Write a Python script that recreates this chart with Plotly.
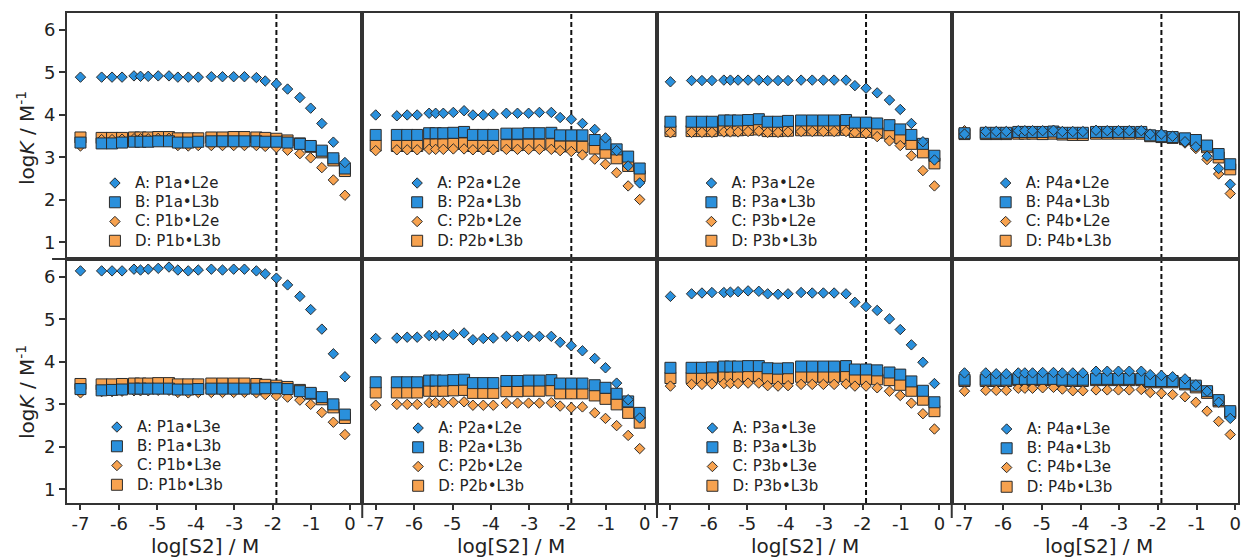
import plotly.graph_objects as go
from plotly.subplots import make_subplots

# log[S2] titration points (shared by every panel)
LOG_S2 = [-7.00, -6.45, -6.18, -5.92, -5.61, -5.44, -5.24, -4.98, -4.70, -4.47,
          -4.20, -3.94, -3.60, -3.31, -3.02, -2.74, -2.43, -2.20, -1.91, -1.62,
          -1.30, -1.02, -0.73, -0.43, -0.13]
REFERENCE_LOG_S2 = -1.91

XTICK_VALS = [-7, -6, -5, -4, -3, -2, -1, 0]
XTICK_TEXT = ["-7", "-6", "-5", "-4", "-3", "-2", "-1", "0"]
YTICK_VALS = [1, 2, 3, 4, 5, 6]
YTICK_TEXT = ["1", "2", "3", "4", "5", "6"]

# ---- upper row (logK / M^-1) ----
TOP1_A = [4.89, 4.89, 4.89, 4.89, 4.92, 4.91, 4.91, 4.92, 4.92, 4.89, 4.89, 4.89, 4.90,
          4.90, 4.90, 4.90, 4.88, 4.80, 4.73, 4.61, 4.41, 4.16, 3.80, 3.36, 2.88]
TOP1_B = [3.35, 3.33, 3.33, 3.35, 3.37, 3.37, 3.37, 3.38, 3.38, 3.35, 3.35, 3.37, 3.38,
          3.38, 3.38, 3.38, 3.38, 3.37, 3.37, 3.35, 3.32, 3.27, 3.16, 2.98, 2.74]
TOP1_C = [3.27, 3.42, 3.42, 3.43, 3.44, 3.44, 3.44, 3.45, 3.45, 3.28, 3.27, 3.28, 3.28,
          3.28, 3.28, 3.28, 3.28, 3.26, 3.23, 3.17, 3.09, 2.99, 2.76, 2.47, 2.11]
TOP1_D = [3.47, 3.46, 3.46, 3.46, 3.47, 3.47, 3.47, 3.48, 3.48, 3.45, 3.45, 3.45, 3.47,
          3.47, 3.48, 3.48, 3.47, 3.46, 3.44, 3.40, 3.33, 3.25, 3.12, 2.93, 2.68]

TOP2_A = [4.00, 3.98, 4.00, 4.00, 4.04, 4.04, 4.04, 4.06, 4.10, 4.00, 4.00, 4.02, 4.04,
          4.04, 4.04, 4.06, 4.06, 3.94, 3.90, 3.80, 3.66, 3.46, 3.16, 2.80, 2.40]
TOP2_B = [3.53, 3.53, 3.53, 3.53, 3.57, 3.57, 3.57, 3.58, 3.60, 3.53, 3.53, 3.53, 3.56,
          3.56, 3.57, 3.57, 3.58, 3.52, 3.52, 3.52, 3.41, 3.31, 3.19, 3.02, 2.74]
TOP2_C = [3.16, 3.18, 3.18, 3.18, 3.19, 3.19, 3.19, 3.20, 3.20, 3.18, 3.18, 3.18, 3.19,
          3.19, 3.19, 3.19, 3.19, 3.16, 3.14, 3.06, 2.96, 2.84, 2.64, 2.33, 2.01]
TOP2_D = [3.28, 3.27, 3.27, 3.27, 3.31, 3.31, 3.31, 3.32, 3.33, 3.27, 3.27, 3.27, 3.29,
          3.29, 3.30, 3.30, 3.31, 3.26, 3.26, 3.25, 3.21, 3.11, 2.98, 2.80, 2.56]

TOP3_A = [4.78, 4.81, 4.81, 4.81, 4.82, 4.82, 4.82, 4.82, 4.82, 4.81, 4.81, 4.81, 4.82,
          4.82, 4.82, 4.82, 4.82, 4.69, 4.63, 4.52, 4.35, 4.13, 3.80, 3.37, 2.94]
TOP3_B = [3.84, 3.84, 3.84, 3.84, 3.87, 3.87, 3.87, 3.88, 3.90, 3.84, 3.84, 3.86, 3.87,
          3.87, 3.87, 3.87, 3.88, 3.82, 3.82, 3.80, 3.76, 3.66, 3.53, 3.32, 3.04]
TOP3_C = [3.58, 3.59, 3.59, 3.59, 3.60, 3.60, 3.60, 3.61, 3.62, 3.59, 3.59, 3.60, 3.61,
          3.61, 3.61, 3.61, 3.61, 3.59, 3.57, 3.49, 3.39, 3.28, 3.04, 2.69, 2.33]
TOP3_D = [3.62, 3.62, 3.62, 3.62, 3.64, 3.64, 3.64, 3.65, 3.66, 3.62, 3.62, 3.63, 3.64,
          3.64, 3.64, 3.64, 3.65, 3.60, 3.60, 3.58, 3.56, 3.46, 3.32, 3.12, 2.86]

TOP4_A = [3.55, 3.61, 3.61, 3.61, 3.63, 3.63, 3.63, 3.63, 3.64, 3.61, 3.61, 3.61, 3.64,
          3.63, 3.63, 3.63, 3.63, 3.55, 3.55, 3.50, 3.37, 3.25, 3.03, 2.74, 2.37]
TOP4_B = [3.57, 3.58, 3.58, 3.58, 3.60, 3.60, 3.60, 3.60, 3.61, 3.58, 3.58, 3.58, 3.60,
          3.60, 3.60, 3.60, 3.60, 3.52, 3.50, 3.48, 3.45, 3.41, 3.28, 3.08, 2.84]
TOP4_C = [3.63, 3.60, 3.60, 3.60, 3.61, 3.61, 3.61, 3.61, 3.62, 3.60, 3.59, 3.59, 3.61,
          3.61, 3.61, 3.61, 3.61, 3.54, 3.53, 3.48, 3.34, 3.21, 2.95, 2.61, 2.15]
TOP4_D = [3.55, 3.55, 3.55, 3.55, 3.56, 3.56, 3.56, 3.55, 3.56, 3.54, 3.53, 3.53, 3.56,
          3.56, 3.56, 3.56, 3.56, 3.50, 3.48, 3.46, 3.43, 3.38, 3.24, 3.00, 2.72]

# ---- lower row ----
BOT1_A = [6.14, 6.14, 6.14, 6.14, 6.18, 6.16, 6.18, 6.20, 6.23, 6.16, 6.14, 6.16, 6.18,
          6.16, 6.18, 6.18, 6.14, 6.07, 5.97, 5.81, 5.54, 5.23, 4.77, 4.19, 3.65]
BOT1_B = [3.36, 3.33, 3.34, 3.35, 3.37, 3.37, 3.37, 3.37, 3.37, 3.35, 3.35, 3.36, 3.37,
          3.37, 3.37, 3.37, 3.37, 3.38, 3.38, 3.36, 3.31, 3.27, 3.17, 3.00, 2.76]
BOT1_C = [3.27, 3.30, 3.30, 3.31, 3.32, 3.32, 3.32, 3.33, 3.33, 3.28, 3.27, 3.28, 3.28,
          3.28, 3.28, 3.28, 3.27, 3.23, 3.20, 3.17, 3.10, 3.00, 2.81, 2.58, 2.29]
BOT1_D = [3.48, 3.47, 3.47, 3.48, 3.49, 3.49, 3.49, 3.50, 3.50, 3.47, 3.47, 3.47, 3.49,
          3.49, 3.49, 3.49, 3.48, 3.46, 3.44, 3.41, 3.34, 3.25, 3.12, 2.93, 2.68]

BOT2_A = [4.55, 4.56, 4.58, 4.58, 4.62, 4.62, 4.62, 4.64, 4.68, 4.52, 4.55, 4.56, 4.60,
          4.60, 4.60, 4.60, 4.60, 4.46, 4.38, 4.26, 4.08, 3.86, 3.50, 3.11, 2.68]
BOT2_B = [3.52, 3.52, 3.52, 3.52, 3.56, 3.56, 3.56, 3.57, 3.58, 3.50, 3.50, 3.50, 3.55,
          3.55, 3.56, 3.56, 3.57, 3.49, 3.49, 3.49, 3.45, 3.39, 3.25, 3.07, 2.80]
BOT2_C = [2.98, 3.00, 3.00, 3.00, 3.04, 3.04, 3.04, 3.05, 3.06, 2.98, 2.98, 2.98, 3.03,
          3.03, 3.03, 3.03, 3.04, 2.96, 2.92, 2.94, 2.80, 2.67, 2.50, 2.27, 1.96]
BOT2_D = [3.28, 3.28, 3.28, 3.28, 3.32, 3.32, 3.32, 3.33, 3.34, 3.27, 3.27, 3.27, 3.31,
          3.31, 3.32, 3.32, 3.33, 3.26, 3.26, 3.26, 3.21, 3.13, 3.00, 2.80, 2.57]

BOT3_A = [5.54, 5.60, 5.62, 5.63, 5.63, 5.64, 5.65, 5.67, 5.66, 5.60, 5.59, 5.60, 5.63,
          5.62, 5.62, 5.62, 5.60, 5.40, 5.30, 5.21, 5.01, 4.76, 4.40, 3.99, 3.49]
BOT3_B = [3.86, 3.86, 3.86, 3.87, 3.89, 3.89, 3.89, 3.90, 3.90, 3.85, 3.84, 3.85, 3.89,
          3.89, 3.89, 3.89, 3.90, 3.82, 3.82, 3.80, 3.75, 3.70, 3.54, 3.32, 3.05]
BOT3_C = [3.43, 3.47, 3.47, 3.48, 3.49, 3.49, 3.49, 3.50, 3.50, 3.44, 3.43, 3.44, 3.47,
          3.47, 3.47, 3.47, 3.48, 3.43, 3.43, 3.39, 3.31, 3.21, 3.03, 2.78, 2.42]
BOT3_D = [3.62, 3.62, 3.62, 3.63, 3.66, 3.66, 3.66, 3.67, 3.67, 3.62, 3.61, 3.62, 3.65,
          3.65, 3.65, 3.65, 3.66, 3.60, 3.60, 3.59, 3.57, 3.46, 3.32, 3.11, 2.84]

BOT4_A = [3.74, 3.74, 3.72, 3.72, 3.74, 3.74, 3.74, 3.75, 3.75, 3.74, 3.74, 3.74, 3.78,
          3.78, 3.78, 3.78, 3.78, 3.70, 3.68, 3.65, 3.60, 3.46, 3.31, 3.05, 2.67]
BOT4_B = [3.58, 3.58, 3.58, 3.58, 3.60, 3.60, 3.60, 3.60, 3.60, 3.58, 3.58, 3.58, 3.60,
          3.60, 3.60, 3.60, 3.60, 3.55, 3.55, 3.55, 3.50, 3.44, 3.31, 3.10, 2.84]
BOT4_C = [3.31, 3.33, 3.33, 3.33, 3.38, 3.38, 3.38, 3.39, 3.40, 3.36, 3.32, 3.32, 3.34,
          3.34, 3.34, 3.34, 3.35, 3.28, 3.26, 3.23, 3.18, 3.05, 2.84, 2.60, 2.29]
BOT4_D = [3.55, 3.55, 3.55, 3.55, 3.57, 3.57, 3.57, 3.57, 3.57, 3.55, 3.55, 3.55, 3.57,
          3.57, 3.57, 3.57, 3.57, 3.52, 3.52, 3.52, 3.47, 3.40, 3.27, 3.07, 2.80]

# legend labels, one list per panel (A, B, C, D)
LABELS_TOP1 = ["A: P1a•L2e", "B: P1a•L3b", "C: P1b•L2e", "D: P1b•L3b"]
LABELS_TOP2 = ["A: P2a•L2e", "B: P2a•L3b", "C: P2b•L2e", "D: P2b•L3b"]
LABELS_TOP3 = ["A: P3a•L2e", "B: P3a•L3b", "C: P3b•L2e", "D: P3b•L3b"]
LABELS_TOP4 = ["A: P4a•L2e", "B: P4a•L3b", "C: P4b•L2e", "D: P4b•L3b"]
LABELS_BOT1 = ["A: P1a•L3e", "B: P1a•L3b", "C: P1b•L3e", "D: P1b•L3b"]
LABELS_BOT2 = ["A: P2a•L2e", "B: P2a•L3b", "C: P2b•L2e", "D: P2b•L3b"]
LABELS_BOT3 = ["A: P3a•L3e", "B: P3a•L3b", "C: P3b•L3e", "D: P3b•L3b"]
LABELS_BOT4 = ["A: P4a•L3e", "B: P4a•L3b", "C: P4b•L3e", "D: P4b•L3b"]

X_TITLE = "log[S2] / M"
Y_TITLE = "log<i>K</i> / M<sup>-1</sup>"

# ---------------------------------------------------------------- styling
FONT = "DejaVu Sans"
INK = "#222222"
FRAME = "#333333"
BLUE = "#2a90dc"
ORANGE = "#f7a24f"
EDGE = "#2b2b2b"

W, H = 1241, 557
M_L, M_R, M_T, M_B = 67, 0, 13, 54
PW, PH = W - M_L - M_R, H - M_T - M_B

COL_EDGES_PX = [67, 363, 658.5, 954, 1241]
ROW_SPLIT = 0.498
X_RANGES = [[-7.35, 0.32], [-7.35, 0.32], [-7.35, 0.32], [-7.33, 0.07]]
Y_RANGES = [[0.61, 6.40], [0.68, 6.42]]

# symbol, colour, size, legend rank; drawing order is D, C, B, A
SERIES_STYLE = {
    "A": ("diamond", BLUE, 8, 1),
    "B": ("square", BLUE, 11, 2),
    "C": ("diamond", ORANGE, 8, 3),
    "D": ("square", ORANGE, 11, 4),
}

panels = [
    (1, 1, [TOP1_A, TOP1_B, TOP1_C, TOP1_D], LABELS_TOP1),
    (1, 2, [TOP2_A, TOP2_B, TOP2_C, TOP2_D], LABELS_TOP2),
    (1, 3, [TOP3_A, TOP3_B, TOP3_C, TOP3_D], LABELS_TOP3),
    (1, 4, [TOP4_A, TOP4_B, TOP4_C, TOP4_D], LABELS_TOP4),
    (2, 1, [BOT1_A, BOT1_B, BOT1_C, BOT1_D], LABELS_BOT1),
    (2, 2, [BOT2_A, BOT2_B, BOT2_C, BOT2_D], LABELS_BOT2),
    (2, 3, [BOT3_A, BOT3_B, BOT3_C, BOT3_D], LABELS_BOT3),
    (2, 4, [BOT4_A, BOT4_B, BOT4_C, BOT4_D], LABELS_BOT4),
]

# legend anchor: x of text start, y of first entry centre (page pixels)
LEGEND_PX = {
    (1, 1): (135, 183), (1, 2): (438, 183), (1, 3): (733, 183), (1, 4): (1028, 183),
    (2, 1): (137, 427), (2, 2): (439, 428), (2, 3): (734, 428), (2, 4): (1029, 429),
}

LEG_FONT = 12.5      # drives entry spacing
LEG_TEXT = 15        # rendered label size
TICK_SIZE = 18
TITLE_SIZE = 20


def px_to_paper_x(px):
    return (px - M_L) / PW


def px_to_paper_y(py):
    return (H - M_B - py) / PH


fig = make_subplots(rows=2, cols=4, horizontal_spacing=0, vertical_spacing=0)

for k, (row, col, values, labels) in enumerate(panels):
    legend_id = "legend" if k == 0 else f"legend{k + 1}"
    series = dict(zip("ABCD", values))
    names = dict(zip("ABCD", labels))
    for key in ["D", "C", "B", "A"]:
        symbol, color, size, rank = SERIES_STYLE[key]
        fig.add_trace(
            go.Scatter(
                x=LOG_S2, y=series[key], mode="markers",
                name=f'<span style="font-size:{LEG_TEXT}px">{names[key]}</span>',
                legend=legend_id, legendrank=rank,
                marker=dict(symbol=symbol, size=size, color=color,
                            line=dict(color=EDGE, width=1)),
                hoverinfo="skip",
            ),
            row=row, col=col,
        )
    tx, ty = LEGEND_PX[(row, col)]
    fig.update_layout({
        legend_id: dict(
            x=px_to_paper_x(tx - 40), y=px_to_paper_y(ty - 14.6),
            xanchor="left", yanchor="top",
            bgcolor="rgba(0,0,0,0)", borderwidth=0,
            font=dict(family=FONT, size=LEG_FONT, color=INK),
            itemsizing="trace", traceorder="normal",
        )
    })

    # vertical reference line
    fig.add_vline(x=REFERENCE_LOG_S2, row=row, col=col, layer="below",
                  line=dict(color="#111111", width=2, dash="5px,3px"))

# axes
for row in (1, 2):
    for col in (1, 2, 3, 4):
        dom_x = [px_to_paper_x(COL_EDGES_PX[col - 1]), px_to_paper_x(COL_EDGES_PX[col])]
        dom_x = [max(0.0, min(1.0, v)) for v in dom_x]
        dom_y = [ROW_SPLIT, 1.0] if row == 1 else [0.0, ROW_SPLIT]
        fig.update_xaxes(
            row=row, col=col, domain=dom_x, range=X_RANGES[col - 1],
            showline=True, mirror=True, linecolor=FRAME, linewidth=2,
            showgrid=False, zeroline=False,
            tickvals=XTICK_VALS, ticktext=XTICK_TEXT,
            ticks="outside" if row == 2 else "", ticklen=5, tickwidth=1.5, tickcolor=FRAME,
            showticklabels=(row == 2), ticklabeloverflow="allow", ticklabelstandoff=-2,
            tickfont=dict(family=FONT, size=TICK_SIZE, color=INK),
        )
        fig.update_yaxes(
            row=row, col=col, domain=dom_y, range=Y_RANGES[row - 1],
            showline=True, mirror=True, linecolor=FRAME, linewidth=2,
            showgrid=False, zeroline=False,
            tickvals=YTICK_VALS, ticktext=YTICK_TEXT,
            ticks="outside" if col == 1 else "", ticklen=6, tickwidth=1.5, tickcolor=FRAME,
            showticklabels=(col == 1),
            tickfont=dict(family=FONT, size=TICK_SIZE, color=INK),
        )

# panel separators run a little past the frame
stub = 15
for edge_px in COL_EDGES_PX[1:-1]:
    fig.add_shape(type="line", xref="paper", yref="paper",
                  x0=px_to_paper_x(edge_px), x1=px_to_paper_x(edge_px),
                  y0=0, y1=-stub / PH, line=dict(color=FRAME, width=2))
fig.add_shape(type="line", xref="paper", yref="paper",
              x0=-stub / PW, x1=0, y0=ROW_SPLIT, y1=ROW_SPLIT,
              line=dict(color=FRAME, width=2))

# axis titles
X_TITLE_CENTERS_PX = [205, 512, 807, 1102]
for cx in X_TITLE_CENTERS_PX:
    fig.add_annotation(text=X_TITLE, xref="paper", yref="paper",
                       x=px_to_paper_x(cx), y=px_to_paper_y(545.5),
                       xanchor="center", yanchor="middle", showarrow=False,
                       borderpad=0,
                       font=dict(family=FONT, size=TITLE_SIZE, color=INK))
for cy in (138, 392):
    fig.add_annotation(text=Y_TITLE, xref="paper", yref="paper",
                       x=px_to_paper_x(26), y=px_to_paper_y(cy), textangle=-90,
                       xanchor="center", yanchor="middle", showarrow=False,
                       font=dict(family=FONT, size=TITLE_SIZE, color=INK))

fig.update_layout(
    width=W, height=H,
    margin=dict(l=M_L, r=M_R, t=M_T, b=M_B),
    paper_bgcolor="white", plot_bgcolor="white",
    font=dict(family=FONT, color=INK),
    showlegend=True,
)

fig.write_html("out.html")
